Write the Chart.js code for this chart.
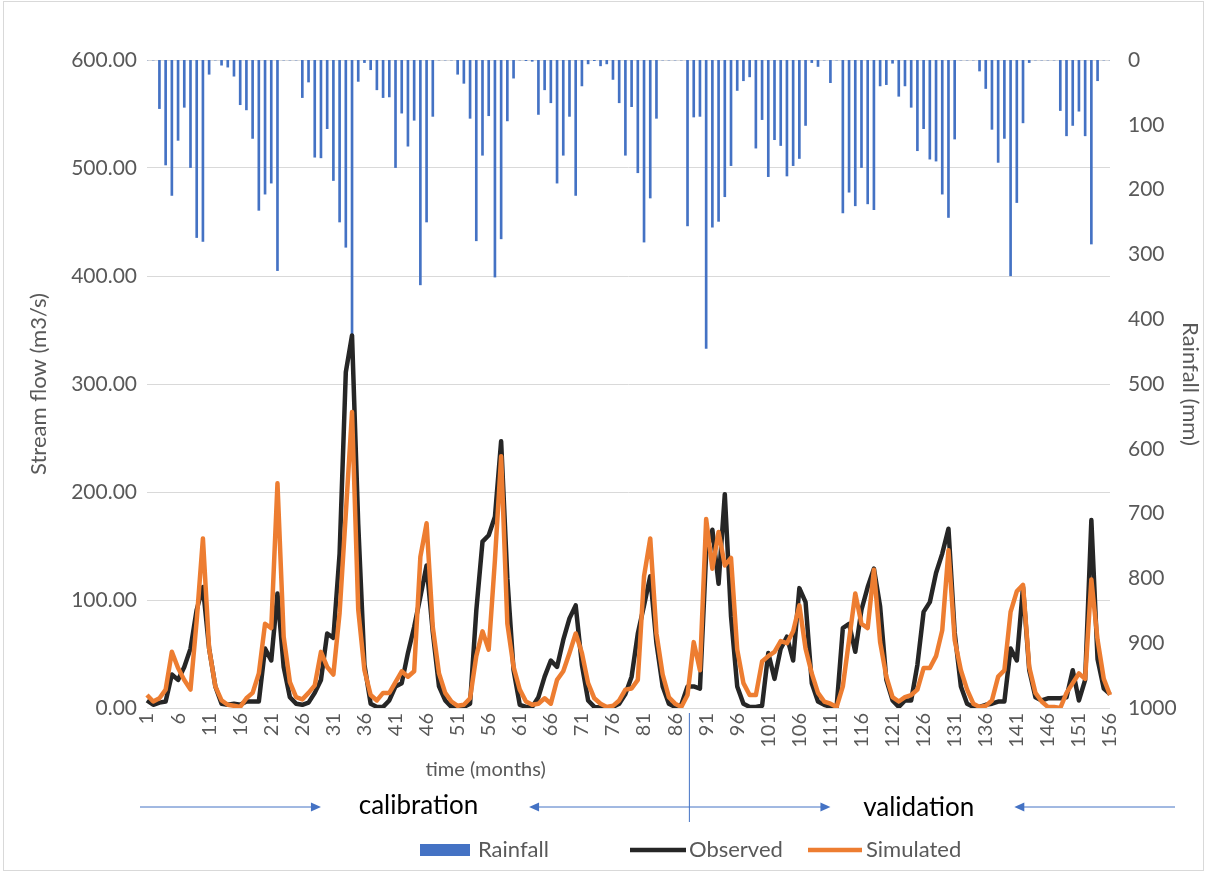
<!DOCTYPE html>
<html>
<head>
<meta charset="utf-8">
<script src="https://cdn.jsdelivr.net/npm/chart.js@4.4.1/dist/chart.umd.min.js"></script>
<style>
  html, body { margin: 0; padding: 0; background: #fff; }
  #wrap { width: 1205px; height: 873px; position: relative; }
</style>
</head>
<body>
<div id="wrap"><canvas id="c" width="1205" height="873"></canvas></div>
<script>
/* ── data ───────────────────────────── */
const MONTHS = Array.from({ length: 156 }, (_, i) => String(i + 1));

const RAINFALL = [
  0, 0, 75, 162, 209, 124, 73, 166, 274, 280,
  22, 0, 8, 11, 25, 69, 77, 121, 232, 207,
  190, 325, 0, 0, 0, 58, 34, 150, 151, 106,
  186, 250, 289, 425, 33, 4, 15, 46, 58, 57,
  166, 82, 133, 93, 347, 250, 87, 0, 0, 0,
  22, 36, 90, 279, 147, 86, 335, 276, 94, 28,
  0, 1, 2, 84, 46, 66, 190, 147, 87, 209,
  40, 6, 1, 9, 6, 30, 66, 147, 72, 174,
  281, 213, 90, 0, 0, 0, 0, 256, 88, 87,
  445, 258, 249, 211, 163, 47, 32, 26, 136, 92,
  180, 123, 132, 179, 163, 152, 101, 4, 10, 0,
  35, 0, 236, 204, 225, 166, 222, 231, 40, 38,
  5, 56, 40, 73, 140, 106, 153, 156, 207, 243,
  122, 0, 0, 0, 17, 44, 107, 158, 121, 333,
  220, 97, 4, 0, 0, 0, 0, 78, 117, 101,
  79, 117, 284, 32, 0, 0
];

const OBSERVED = [
  7, 3, 5, 6, 31, 26, 38, 55, 91, 112,
  55, 20, 4, 3, 4, 3, 6, 6, 6, 55,
  44, 106, 38, 10, 4, 3, 5, 14, 26, 69,
  65, 143, 311, 345, 170, 40, 4, 1, 1, 7,
  20, 23, 51, 75, 103, 132, 70, 20, 7, 1,
  1, 1, 4, 90, 154, 160, 177, 247, 120, 35,
  3, 1, 1, 10, 29, 44, 38, 63, 83, 95,
  40, 7, 1, 0.5, 0, 1, 4, 13, 29, 69,
  95, 122, 60, 20, 4, 1, 3, 20, 20, 18,
  143, 165, 115, 198, 85, 20, 4, 1, 1, 2,
  51, 27, 55, 66, 44, 111, 98, 23, 6, 3,
  1, 1, 74, 78, 52, 91, 112, 129, 94, 26,
  7, 1, 7, 7, 40, 89, 98, 125, 143, 166,
  70, 20, 4, 1, 1, 3, 4, 6, 6, 55,
  44, 112, 35, 10, 7, 9, 9, 9, 10, 35,
  7, 26, 174, 45, 18, 13
];

const SIMULATED = [
  12, 6, 9, 17, 52, 37, 26, 17, 81, 157,
  55, 20, 7, 3, 2, 1, 9, 14, 32, 78,
  74, 208, 66, 24, 10, 8, 14, 21, 52, 38,
  31, 88, 180, 274, 91, 35, 12, 7, 14, 14,
  24, 34, 29, 34, 140, 171, 75, 32, 14, 6,
  2, 3, 9, 48, 71, 54, 137, 233, 78, 38,
  17, 6, 3, 4, 9, 4, 26, 34, 51, 69,
  51, 23, 9, 4, 1, 2, 7, 17, 18, 26,
  122, 157, 69, 31, 10, 4, 1, 12, 61, 35,
  175, 129, 163, 132, 139, 54, 23, 12, 12, 43,
  48, 52, 62, 60, 71, 95, 55, 32, 14, 6,
  4, 1, 20, 63, 106, 78, 74, 128, 61, 29,
  10, 6, 10, 12, 17, 37, 37, 48, 72, 146,
  63, 35, 17, 4, 1, 2, 7, 29, 35, 89,
  108, 114, 38, 14, 6, 1, 1, 0, 14, 23,
  32, 27, 119, 63, 27, 12
];

const FLOW_MIN = 0, FLOW_MAX = 600, FLOW_STEP = 100;
const RAIN_MIN = 0, RAIN_MAX = 1000, RAIN_STEP = 100;

/* ── look ───────────────────────────── */
const FONT = 'Lato, "Open Sans", sans-serif';
const GREY_TXT = '#595959';
const BLUE = '#4472c4';

/* ══════════════════════════════════
   ANNOTATIONS (title, arrows, legend, border)
══════════════════════════════════ */
function arrow(ctx, x1, x2, y) {
  const dir = x2 > x1 ? 1 : -1;
  ctx.beginPath();
  ctx.moveTo(x1, y);
  ctx.lineTo(x2 - dir * 8, y);
  ctx.stroke();
  ctx.beginPath();
  ctx.moveTo(x2, y);
  ctx.lineTo(x2 - dir * 10, y - 4.5);
  ctx.lineTo(x2 - dir * 10, y + 4.5);
  ctx.closePath();
  ctx.fill();
}

const extras = {
  id: 'extras',
  afterDraw(chart) {
    const { ctx, chartArea } = chart;
    const xs = chart.scales.x;
    const px = v => xs.getPixelForValue(v);
    const ds = chart.data.datasets;
    ctx.save();

    // x axis title (sits left of centre in the original)
    ctx.fillStyle = GREY_TXT;
    ctx.font = '20px ' + FONT;
    ctx.textAlign = 'center';
    ctx.textBaseline = 'middle';
    ctx.fillText('time (months)', px(54.5), 770);

    // calibration / validation arrows
    const ay = 807;
    ctx.strokeStyle = BLUE;
    ctx.fillStyle = BLUE;
    ctx.lineWidth = 1;
    arrow(ctx, 140, px(28), ay);
    arrow(ctx, px(87.3), px(61.5), ay);
    arrow(ctx, px(87.3), px(110), ay);
    arrow(ctx, 1175, px(139.6), ay);

    ctx.beginPath();
    ctx.moveTo(px(87.3), chartArea.bottom + 5);
    ctx.lineTo(px(87.3), 822);
    ctx.stroke();

    ctx.fillStyle = '#000';
    ctx.font = '26px ' + FONT;
    ctx.fillText('calibration', px(43.7), ay - 1);
    ctx.fillText('validation', px(124.2), ay + 1);

    // legend
    const ly = 850;
    ctx.font = '22px ' + FONT;
    ctx.textAlign = 'left';
    ctx.fillStyle = ds[0].backgroundColor;
    ctx.fillRect(420, ly - 6, 50, 12);
    ctx.fillStyle = GREY_TXT;
    ctx.fillText(ds[0].label, 478, ly);
    [[1, 630, 686, 689], [2, 808, 862, 866]].forEach(([i, a, b, t]) => {
      ctx.strokeStyle = ds[i].borderColor;
      ctx.lineWidth = ds[i].borderWidth;
      ctx.beginPath();
      ctx.moveTo(a, ly);
      ctx.lineTo(b, ly);
      ctx.stroke();
      ctx.fillStyle = GREY_TXT;
      ctx.fillText(ds[i].label, t, ly);
    });

    // chart border
    ctx.strokeStyle = '#d9d9d9';
    ctx.lineWidth = 1;
    ctx.strokeRect(3.5, 1.5, chart.width - 5, chart.height - 4);
    ctx.restore();
  }
};

/* ══════════════════════════════════
   CHART
══════════════════════════════════ */
new Chart(document.getElementById('c'), {
  type: 'bar',
  data: {
    labels: MONTHS,
    datasets: [
      { type: 'bar', label: 'Rainfall', data: RAINFALL, yAxisID: 'y2',
        backgroundColor: BLUE, barThickness: 2, order: 3 },
      { type: 'line', label: 'Observed', data: OBSERVED, yAxisID: 'y',
        borderColor: '#262626', backgroundColor: '#262626', borderWidth: 4.5,
        pointRadius: 0, tension: 0, borderJoinStyle: 'round', order: 2 },
      { type: 'line', label: 'Simulated', data: SIMULATED, yAxisID: 'y',
        borderColor: '#ed7d31', backgroundColor: '#ed7d31', borderWidth: 4.5,
        pointRadius: 0, tension: 0, borderJoinStyle: 'round', order: 1 }
    ]
  },
  options: {
    responsive: false, animation: false, devicePixelRatio: 1,
    layout: { padding: { top: 60, left: 0, right: 0, bottom: 38 } },
    scales: {
      x: {
        type: 'category', offset: false,
        grid: { display: false, drawTicks: false },
        border: { display: false },
        ticks: {
          autoSkip: false, minRotation: 90, maxRotation: 90, padding: 5,
          color: GREY_TXT, font: { size: 20, family: FONT },
          callback: (v, i) => (i % 5 === 0 ? MONTHS[i] : '')
        },
        afterFit: s => { s.height = 127; }
      },
      y: {
        position: 'left', min: FLOW_MIN, max: FLOW_MAX,
        grid: { color: '#d9d9d9', lineWidth: 1, drawTicks: false },
        border: { display: false },
        ticks: { stepSize: FLOW_STEP, padding: 10, color: GREY_TXT, font: { size: 21, family: FONT },
                 callback: v => v.toFixed(2) },
        title: { display: true, text: 'Stream flow (m3/s)', color: GREY_TXT,
                 font: { size: 22, family: FONT }, padding: { top: 26 } },
        afterFit: s => { s.width = 147; }
      },
      y2: {
        position: 'right', reverse: true, min: RAIN_MIN, max: RAIN_MAX,
        grid: { display: false, drawTicks: false },
        border: { display: false },
        ticks: { stepSize: RAIN_STEP, padding: 18, color: GREY_TXT, font: { size: 21, family: FONT },
                 callback: v => String(v) },
        title: { display: true, text: 'Rainfall (mm)', color: GREY_TXT,
                 font: { size: 22, family: FONT }, padding: { top: 2 } },
        afterFit: s => { s.width = 95; }
      }
    },
    plugins: {
      legend: { display: false },
      tooltip: { enabled: false }
    }
  },
  plugins: [extras]
});
</script>
</body>
</html>
